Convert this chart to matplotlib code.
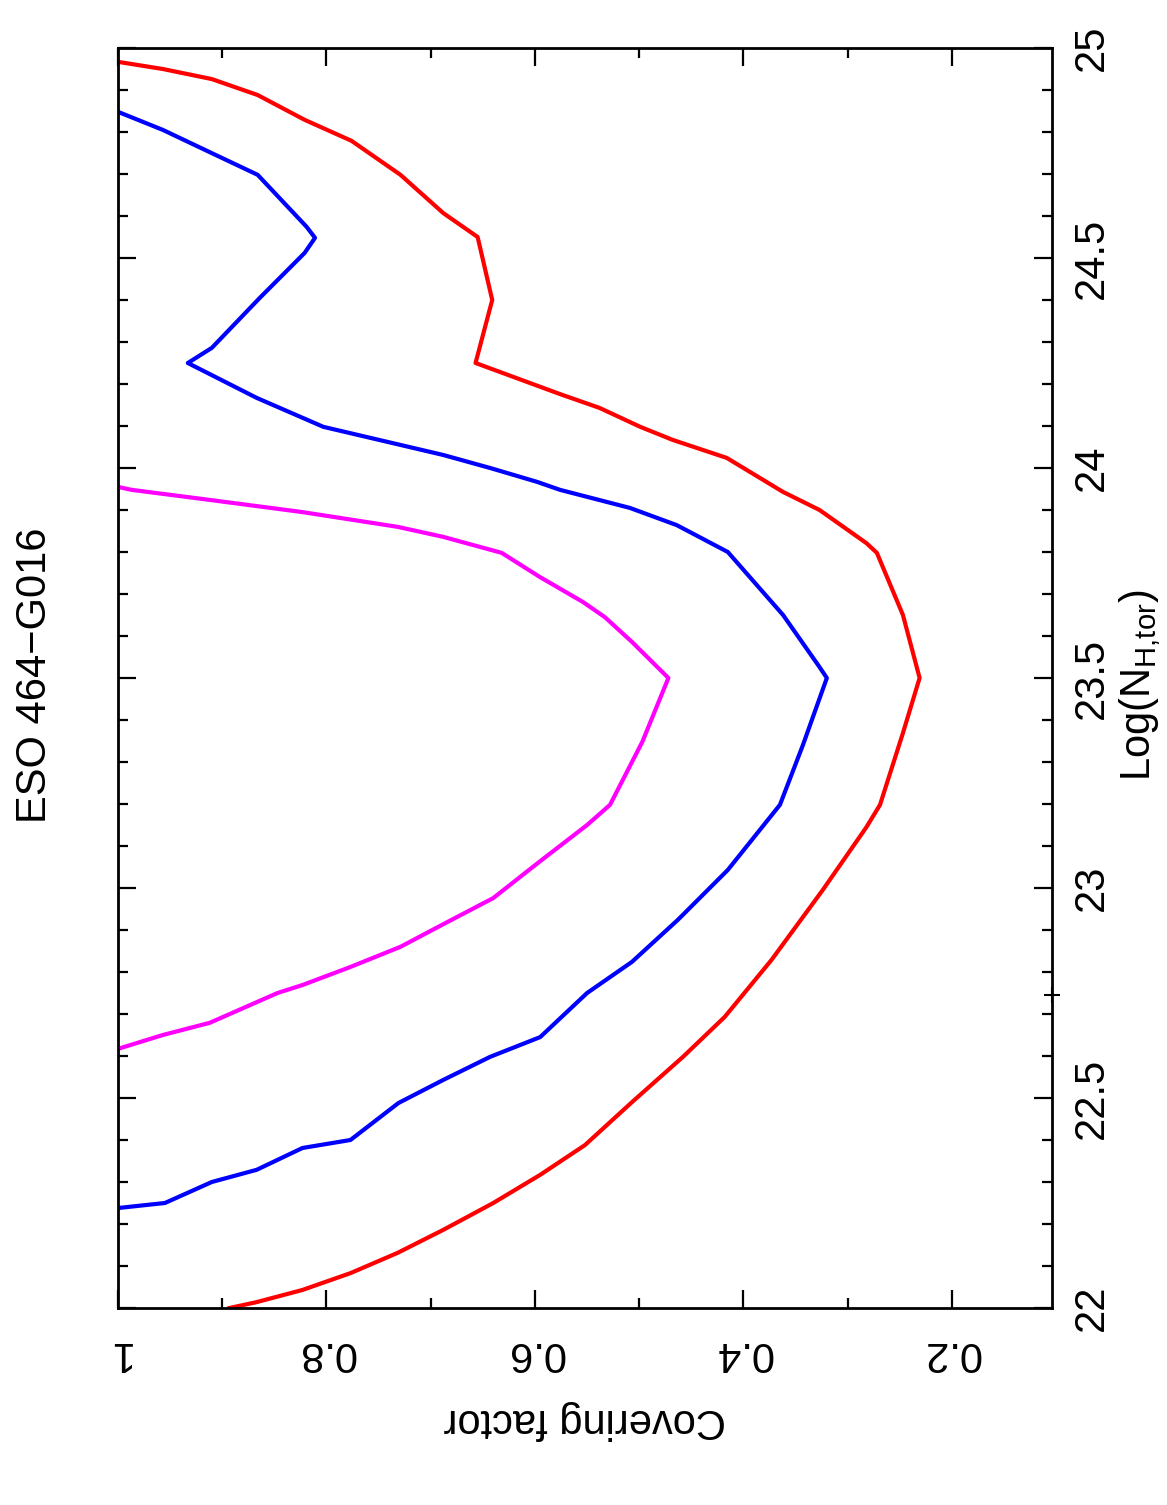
import numpy as np
import matplotlib
matplotlib.use("Agg")
import matplotlib.pyplot as plt
from matplotlib.ticker import FixedLocator, FixedFormatter

plt.rcParams["font.family"] = ["Liberation Sans", "DejaVu Sans"]
plt.rcParams["mathtext.fontset"] = "custom"
plt.rcParams["mathtext.rm"] = "Liberation Sans"

TITLE = "ESO 464\u2212G016"

red_nh = [24.967, 24.95, 24.926, 24.888, 24.829, 24.779, 24.698, 24.607, 24.55, 24.40,
          24.25, 24.176, 24.143, 24.098, 24.067, 24.024, 23.943, 23.90, 23.821, 23.798,
          23.65, 23.50, 23.369, 23.198, 23.145, 22.995, 22.829, 22.693, 22.598, 22.490,
          22.388, 22.317, 22.250, 22.186, 22.131, 22.083, 22.043, 22.014, 22.0]
red_cf = [1.0, 0.957, 0.910, 0.866, 0.821, 0.776, 0.729, 0.688, 0.655, 0.641,
          0.657, 0.576, 0.538, 0.499, 0.468, 0.416, 0.362, 0.327, 0.282, 0.272,
          0.247, 0.231, 0.247, 0.269, 0.282, 0.324, 0.373, 0.418, 0.458, 0.507,
          0.552, 0.595, 0.640, 0.688, 0.732, 0.777, 0.823, 0.867, 0.893]

blue_nh = [24.848, 24.805, 24.752, 24.698, 24.574, 24.548, 24.512, 24.405, 24.286, 24.25,
           24.167, 24.098, 24.031, 24.0, 23.967, 23.948, 23.905, 23.864, 23.80, 23.65,
           23.526, 23.50, 23.34, 23.198, 23.043, 22.924, 22.824, 22.75, 22.645, 22.598,
           22.543, 22.488, 22.40, 22.381, 22.329, 22.30, 22.25, 22.238]
blue_cf = [1.0, 0.957, 0.912, 0.866, 0.819, 0.811, 0.821, 0.864, 0.910, 0.933,
           0.867, 0.803, 0.688, 0.643, 0.598, 0.576, 0.509, 0.464, 0.415, 0.362,
           0.327, 0.320, 0.343, 0.365, 0.415, 0.463, 0.507, 0.550, 0.595, 0.643,
           0.688, 0.731, 0.777, 0.823, 0.867, 0.910, 0.955, 1.0]

mag_nh = [23.955, 23.948, 23.924, 23.895, 23.86, 23.836, 23.798, 23.74, 23.681, 23.645,
          23.586, 23.50, 23.348, 23.198, 23.15, 23.06, 22.976, 22.919, 22.86, 22.812,
          22.769, 22.75, 22.679, 22.65, 22.617]
mag_cf = [1.0, 0.987, 0.912, 0.823, 0.732, 0.688, 0.632, 0.595, 0.554, 0.533,
          0.507, 0.472, 0.497, 0.528, 0.550, 0.597, 0.640, 0.684, 0.729, 0.777,
          0.823, 0.847, 0.912, 0.957, 1.0]

# little cross left on the N_H axis
cross_cf = 0.104
cross_nh = 22.745

cf_ticks = [1.0, 0.8, 0.6, 0.4, 0.2]
cf_labels = ["1", "0.8", "0.6", "0.4", "0.2"]
cf_minor = [0.9, 0.7, 0.5, 0.3]
nh_ticks = [22, 22.5, 23, 23.5, 24, 24.5, 25]
nh_labels = ["22", "22.5", "23", "23.5", "24", "24.5", "25"]
nh_minor = [v / 10 for v in range(220, 251) if v % 5 != 0]

W, H = 1167, 1505
fig = plt.figure(figsize=(W / 100, H / 100), dpi=100)
ax = fig.add_axes([118 / W, 1 - 1308 / H, (1052 - 118) / W, (1308 - 48) / H])

lw = 3.0
ax.plot(red_cf, red_nh, color="#ff0000", lw=lw)
ax.plot(blue_cf, blue_nh, color="#0000ff", lw=lw)
ax.plot(mag_cf, mag_nh, color="#ff00ff", lw=lw)
ax.plot([cross_cf], [cross_nh], "+", color="black", ms=12, mew=1.5,
        clip_on=False, zorder=5)

ax.set_xlim(1.0, 0.104)
ax.set_ylim(22, 25)

ax.xaxis.set_major_locator(FixedLocator(cf_ticks))
ax.xaxis.set_major_formatter(FixedFormatter(cf_labels))
ax.xaxis.set_minor_locator(FixedLocator(cf_minor))
ax.yaxis.set_major_locator(FixedLocator(nh_ticks))
ax.yaxis.set_major_formatter(FixedFormatter(nh_labels))
ax.yaxis.set_minor_locator(FixedLocator(nh_minor))

for s in ax.spines.values():
    s.set_linewidth(2.0)

ax.tick_params(which="both", direction="in", top=True, bottom=True, left=True, right=True,
               labelleft=False, labelright=True, width=1.6, labelsize=30)
ax.tick_params(which="major", length=13)
ax.tick_params(which="minor", length=7)
ax.tick_params(axis="x", pad=18, labelrotation=180)
ax.tick_params(axis="y", pad=14, labelrotation=90)
for t in ax.get_yticklabels():
    t.set_verticalalignment("center")
    t.set_horizontalalignment("left")

ax.set_xlabel("Covering factor", fontsize=30, rotation=180)
ax.xaxis.set_label_coords(0.5, -0.073)

ax.yaxis.set_label_position("right")
ax.set_ylabel(r"Log(N$_{\mathrm{H{,}tor}}$)", fontsize=30, rotation=90)
ax.yaxis.set_label_coords(1.07, 0.494)

ax.text(-0.089, 0.502, TITLE, transform=ax.transAxes, rotation=90,
        ha="center", va="center", fontsize=30)

fig.savefig("out.png", dpi=100)
